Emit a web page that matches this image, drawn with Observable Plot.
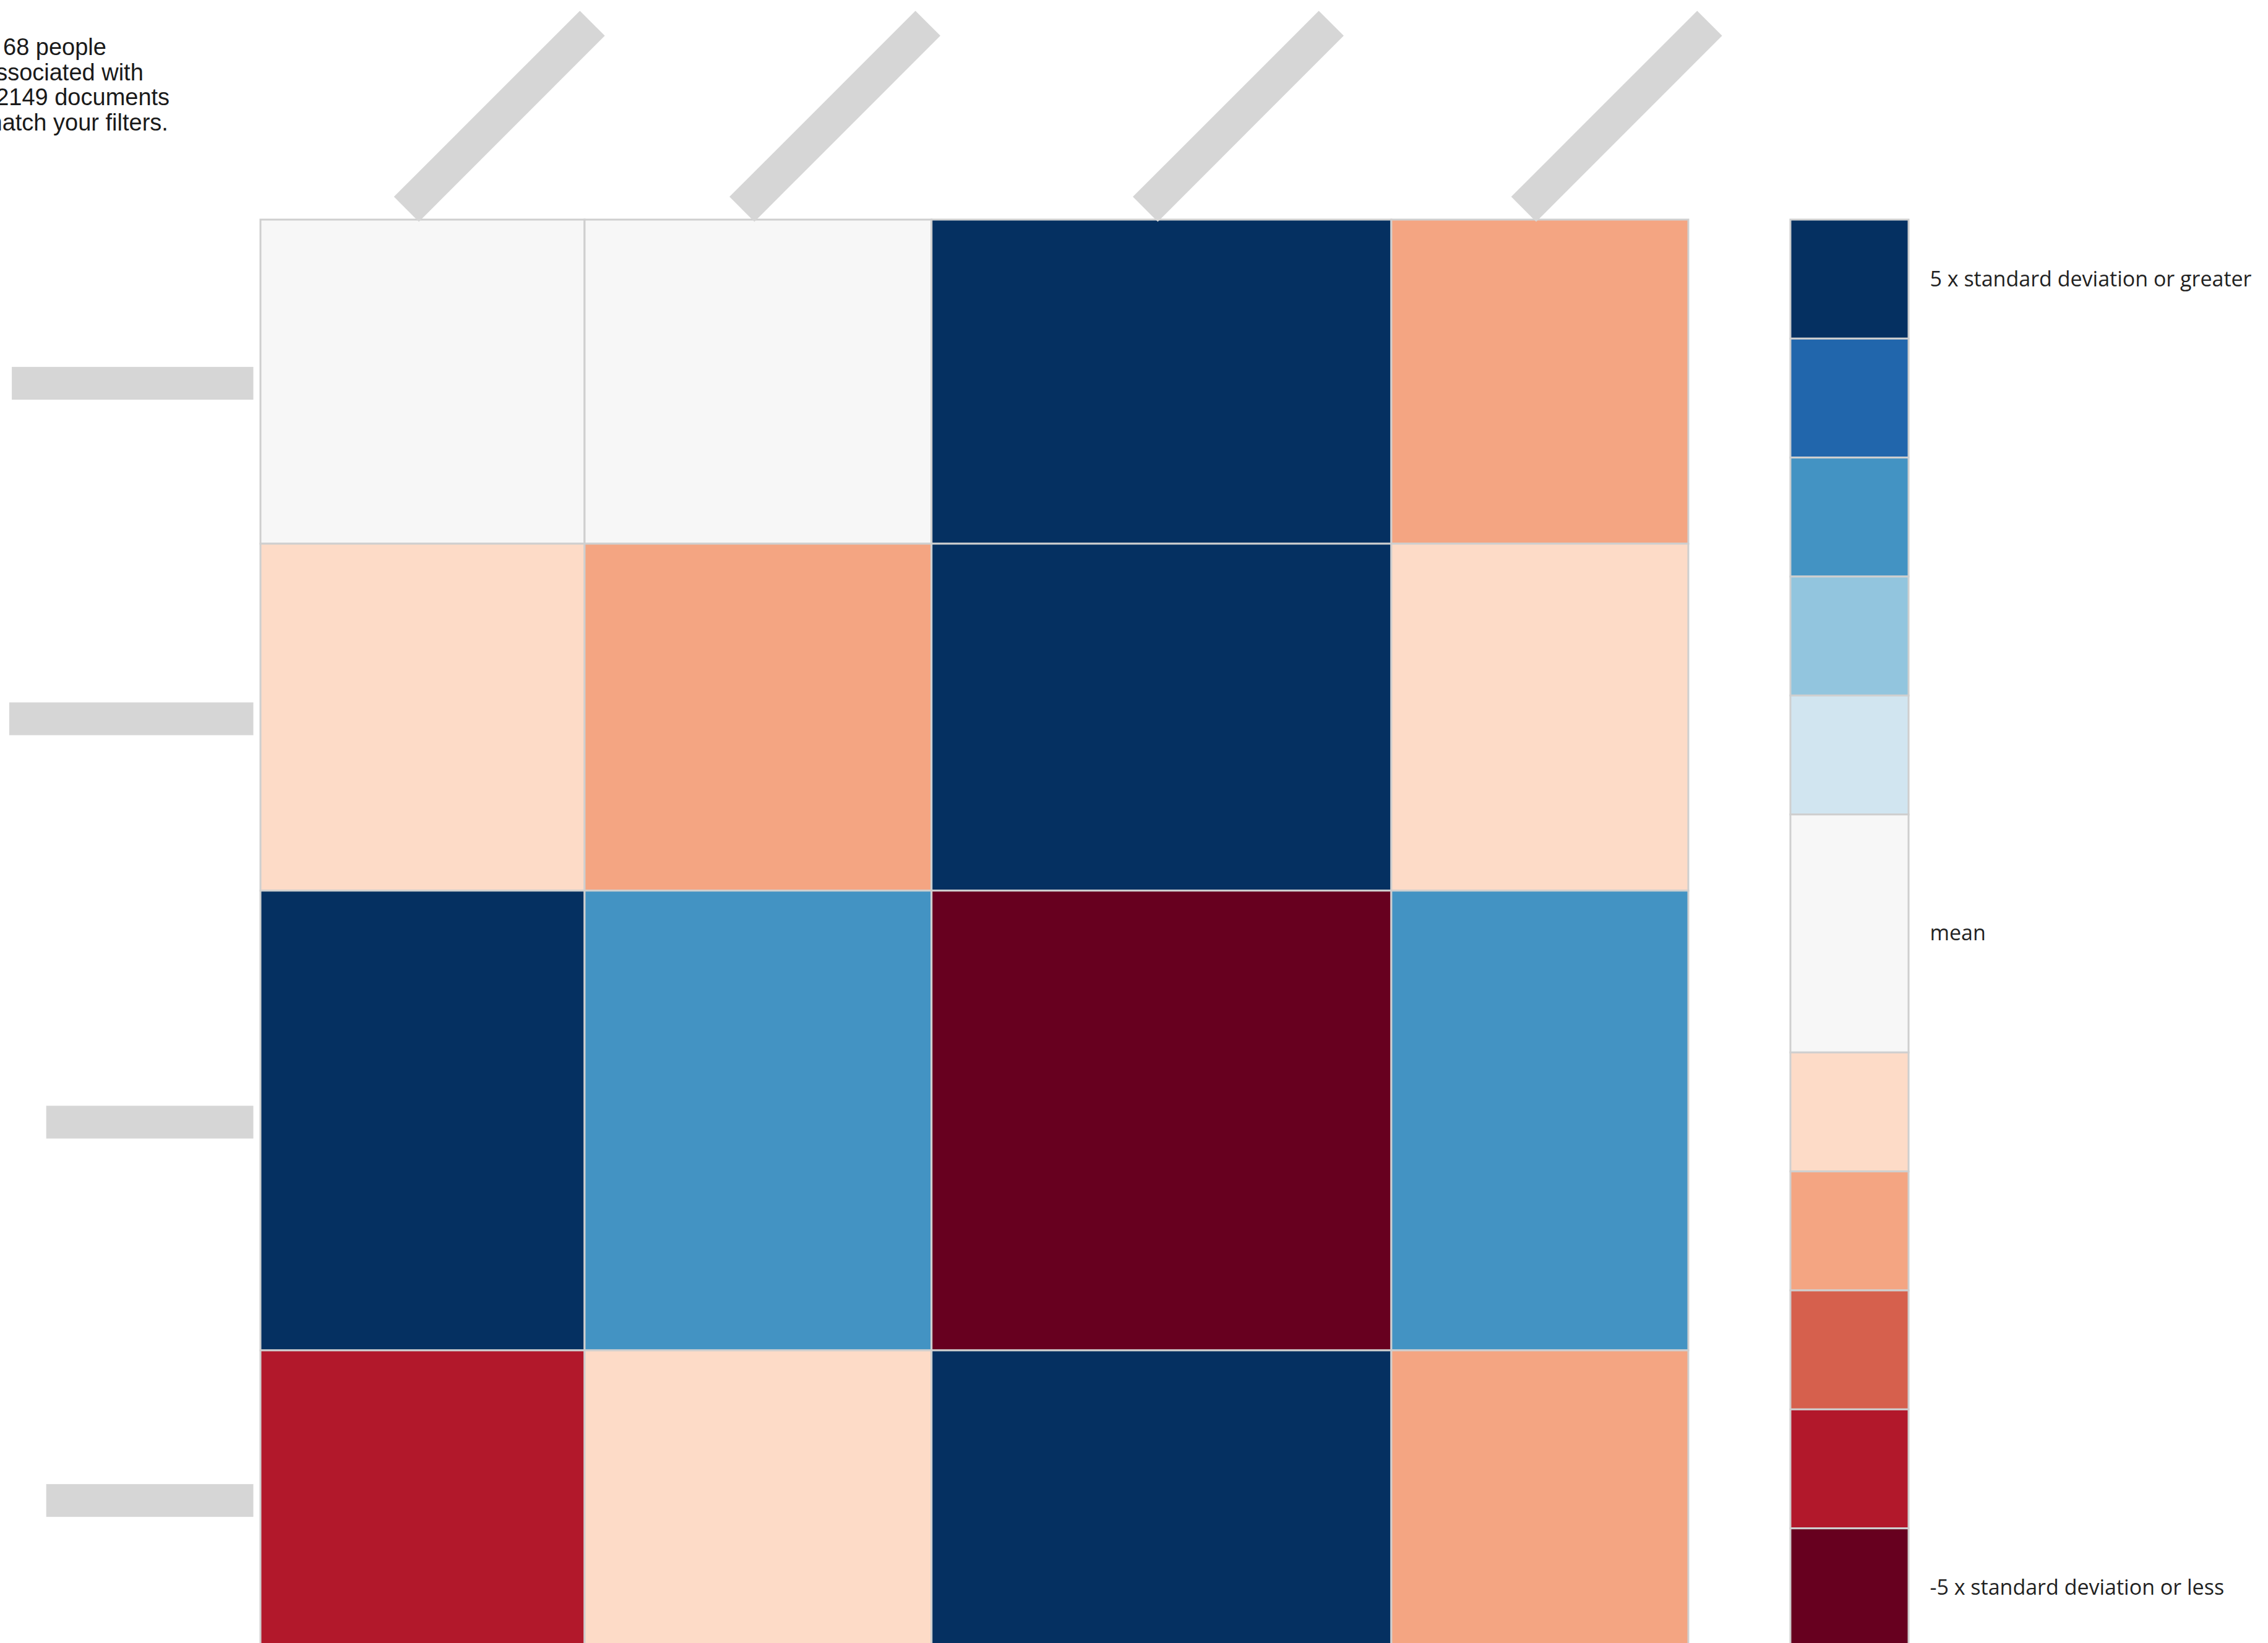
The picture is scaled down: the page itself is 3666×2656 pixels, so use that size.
<!DOCTYPE html>
<html>
<head>
<meta charset="utf-8">
<script src="https://cdn.jsdelivr.net/npm/d3@7"></script>
<script src="https://cdn.jsdelivr.net/npm/@observablehq/plot@0.6"></script>
<style>
  html, body { margin: 0; padding: 0; background: #ffffff; }
  #page { position: relative; width: 3666px; height: 2656px; overflow: hidden; background: #ffffff; }
  #heat { position: absolute; left: 0; top: 0; }
  #legend { position: absolute; left: 2860px; top: 0; }
  #summary { position: absolute; left: -28px; top: 56px; z-index: 2;
    font-family: "Liberation Sans", Arial, Helvetica, sans-serif; font-size: 38px; line-height: 40.5px;
    color: #1a1a1a; white-space: nowrap; }
  #summary .first { padding-left: 33px; }
</style>
</head>
<body>
<div id="page">
  <div id="heat"></div>
  <div id="legend"></div>
  <div id="summary"><div class="first">68 people</div><div>associated with</div><div>12149 documents</div><div>match your filters.</div></div>
</div>
<script>
// ---- data (labels are redacted in the reference; placeholders kept as real text) ----
const categories = ["Category A contractors", "Category B contractors", "Category C officials", "Category D officials"];
// share of the matrix given to each category (percent) -> cell widths/heights
const share = [22.7, 24.3, 32.2, 20.8];
// deviation from mean, in standard deviations (row = category, columns in category order)
const zRowA = [0, 0, 5.5, -2.5];
const zRowB = [-1.5, -2.5, 5.5, -1.5];
const zRowC = [5.5, 3.5, -5.5, 3.5];
const zRowD = [-4.5, -1.5, 5.5, -2.5];
const zRows = [zRowA, zRowB, zRowC, zRowD];

// colour bins (standard deviations)
const thresholds = [-5, -4, -3, -2, -1, 1, 2, 3, 4, 5];
const palette = ["#67001f", "#b2182b", "#d6604d", "#f4a582", "#fddbc7", "#f7f7f7",
                 "#d1e5f0", "#92c5de", "#4393c3", "#2166ac", "#053061"];
// legend bins: lower / upper bound in standard deviations (open ends shown as one unit)
const legendLow  = [5, 4, 3, 2, 1, -1, -2, -3, -4, -5, -6];
const legendHigh = [6, 5, 4, 3, 2,  1, -1, -2, -3, -4, -5];
const legendText = ["5 x standard deviation or greater", "", "", "", "", "mean", "", "", "", "", "-5 x standard deviation or less"];

// ---- derived tables ----
const starts = d3.cumsum([0, ...share]);
const cells = [];
zRows.forEach((row, i) => row.forEach((z, j) => cells.push({
  row: categories[i], col: categories[j],
  x1: starts[j], x2: starts[j + 1], y1: starts[i], y2: starts[i + 1], z
})));
const axisLabels = categories.map((name, i) => ({name, mid: (starts[i] + starts[i + 1]) / 2}));
const legendBins = legendLow.map((low, i) => ({low, high: legendHigh[i], label: legendText[i]}));

const colorOpts = {type: "threshold", domain: thresholds, range: palette};
const redactGrey = "#d6d6d6";

const heat = Plot.plot({
  width: 2860, height: 2664,
  marginLeft: 421, marginRight: 131, marginTop: 355, marginBottom: 1,
  x: {domain: [0, 100], axis: null},
  y: {domain: [0, 100], axis: null, reverse: true},
  color: colorOpts,
  style: {background: "transparent", overflow: "visible"},
  marks: [
    Plot.rect(cells, {x1: "x1", x2: "x2", y1: "y1", y2: "y2", fill: "z", stroke: "#cfcfcf", strokeWidth: 3}),
    Plot.text(axisLabels, {x: 0, y: "mid", text: "name", textAnchor: "end", dx: -15, dy: 3,
      fontSize: 38, fontFamily: "Liberation Sans, Arial, sans-serif", fill: redactGrey}),
    Plot.text(axisLabels, {x: "mid", y: 0, text: "name", rotate: -45, textAnchor: "start", lineAnchor: "bottom",
      dx: -11, dy: -13, fontSize: 40, fontFamily: "Liberation Sans, Arial, sans-serif", fill: redactGrey})
  ]
});
document.getElementById("heat").appendChild(heat);

const legend = Plot.plot({
  width: 806, height: 2664,
  marginLeft: 34, marginRight: 581, marginTop: 355, marginBottom: 1,
  x: {domain: [0, 1], axis: null},
  y: {domain: [-6, 6], axis: null},
  color: colorOpts,
  style: {background: "transparent", overflow: "visible"},
  marks: [
    Plot.rect(legendBins, {x1: 0, x2: 1, y1: "low", y2: "high", fill: d => (d.low + d.high) / 2, stroke: "#cfcfcf", strokeWidth: 3}),
    Plot.text(legendBins.filter(d => d.label), {x: 1, y: d => (d.low + d.high) / 2, text: "label", textAnchor: "start",
      dx: 34, fontSize: 34, fontFamily: "Open Sans, sans-serif", fill: "#222222"})
  ]
});
document.getElementById("legend").appendChild(legend);

// redaction bars drawn behind the (redacted) category labels, sized from the text itself
function redact(group, padX, padY, equalLength) {
  const texts = [...group.querySelectorAll("text")];
  const boxes = texts.map(t => t.getBBox());
  const maxW = d3.max(boxes, b => b.width);
  texts.forEach((t, i) => {
    const b = boxes[i];
    const w = equalLength ? maxW : b.width;
    const r = document.createElementNS("http://www.w3.org/2000/svg", "rect");
    r.setAttribute("x", b.x - padX);
    r.setAttribute("y", b.y - padY);
    r.setAttribute("width", w + 2 * padX);
    r.setAttribute("height", b.height + 2 * padY);
    r.setAttribute("fill", redactGrey);
    r.setAttribute("stroke", "none");
    const tr = t.getAttribute("transform");
    if (tr) r.setAttribute("transform", tr);
    t.parentNode.insertBefore(r, t);
  });
}
const textGroups = [...heat.querySelectorAll('g[aria-label="text"]')];
redact(textGroups[0], 3, 5.5, false);
redact(textGroups[1], 8, 6.5, true);
</script>
</body>
</html>
